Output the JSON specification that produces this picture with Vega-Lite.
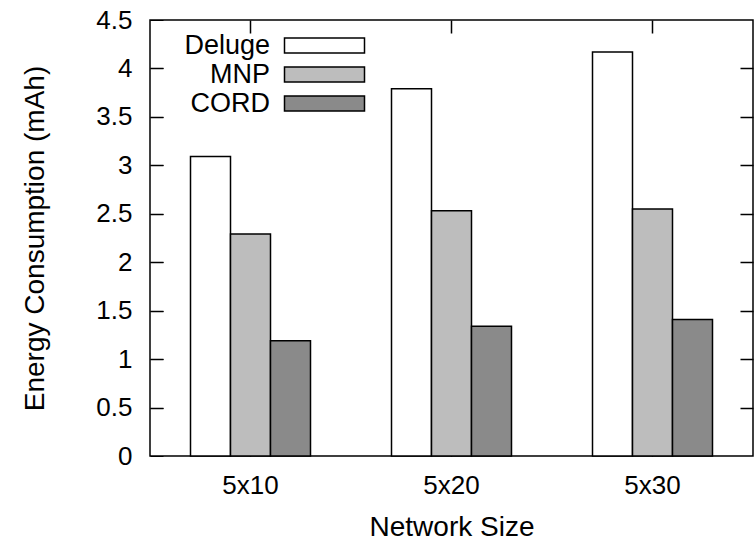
{
  "$schema": "https://vega.github.io/schema/vega-lite/v6.json",
  "width": 603,
  "height": 436,
  "autosize": "none",
  "padding": {"left": 150, "top": 20, "right": 3, "bottom": 85},
  "background": "white",
  "config": {
    "font": "Liberation Sans",
    "view": {"stroke": "black", "strokeWidth": 1.5},
    "axis": {"grid": false}
  },
  "data": {
    "values": [
      {"size": "5x10", "protocol": "Deluge", "energy": 3.09},
      {"size": "5x10", "protocol": "MNP", "energy": 2.29},
      {"size": "5x10", "protocol": "CORD", "energy": 1.19},
      {"size": "5x20", "protocol": "Deluge", "energy": 3.79},
      {"size": "5x20", "protocol": "MNP", "energy": 2.53},
      {"size": "5x20", "protocol": "CORD", "energy": 1.34},
      {"size": "5x30", "protocol": "Deluge", "energy": 4.17},
      {"size": "5x30", "protocol": "MNP", "energy": 2.55},
      {"size": "5x30", "protocol": "CORD", "energy": 1.41}
    ]
  },
  "layer": [
    {
      "mark": {"type": "bar", "stroke": "black", "strokeWidth": 1.5},
      "encoding": {
        "x": {
          "field": "size", "type": "nominal", "sort": ["5x10", "5x20", "5x30"],
          "scale": {"paddingInner": 0.403, "paddingOuter": 0.2015},
          "axis": {"orient": "bottom", "offset": -13, "tickSize": 13, "tickColor": "black", "domain": false, "title": "Network Size", "labelAngle": 0, "labelFontSize": 26, "labelColor": "black", "labelFont": "Liberation Sans", "labelPadding": 16, "titleFontSize": 28, "titleFont": "Liberation Sans", "titleFontWeight": "normal", "titleColor": "black", "titleX": 301.5, "titleY": 92, "titleBaseline": "alphabetic", "titleAlign": "center"}
        },
        "xOffset": {"field": "protocol", "type": "nominal", "sort": ["Deluge", "MNP", "CORD"], "scale": {"paddingInner": 0, "paddingOuter": 0}},
        "y": {
          "field": "energy", "type": "quantitative",
          "scale": {"domain": [0, 4.5], "nice": false},
          "axis": {"orient": "left", "offset": -13, "tickSize": 13, "tickColor": "black", "domain": false, "title": "Energy Consumption (mAh)", "values": [0, 0.5, 1, 1.5, 2, 2.5, 3, 3.5, 4, 4.5], "format": "~f", "labelFontSize": 26, "labelColor": "black", "labelFont": "Liberation Sans", "labelPadding": 18, "titleFontSize": 28, "titleFont": "Liberation Sans", "titleFontWeight": "normal", "titleColor": "black", "titleAngle": 270, "titleX": -120, "titleY": 218, "titleBaseline": "alphabetic", "titleAlign": "center"}
        },
        "fill": {
          "field": "protocol", "type": "nominal",
          "scale": {"domain": ["Deluge", "MNP", "CORD"], "range": ["#ffffff", "#bdbdbd", "#8a8a8a"]},
          "legend": {"orient": "none", "legendX": 161, "legendY": 12, "title": null, "symbolType": "M-4,-0.75L4,-0.75L4,0.75L-4,0.75Z", "symbolSize": 400, "symbolStrokeColor": "black", "symbolStrokeWidth": 1.5, "symbolOpacity": 1, "labelAlign": "right", "labelOffset": -68, "labelFontSize": 27, "labelFont": "Liberation Sans", "labelColor": "black", "rowPadding": 1}
        }
      }
    },
    {
      "mark": {"type": "bar", "opacity": 0},
      "encoding": {
        "x": {"field": "size", "type": "nominal", "sort": ["5x10", "5x20", "5x30"], "axis": {"orient": "top", "domain": false, "labels": false, "ticks": false, "title": null, "grid": true, "gridColor": "black", "gridOpacity": 1, "gridWidth": 1.5, "gridDash": [13, 410]}},
        "y": {"field": "energy", "type": "quantitative", "stack": null, "axis": {"orient": "right", "domain": false, "labels": false, "ticks": false, "title": null, "values": [0.5, 1, 1.5, 2, 2.5, 3, 3.5, 4], "grid": true, "gridColor": "black", "gridOpacity": 1, "gridWidth": 1.5, "gridDash": [13, 577]}}
      }
    }
  ],
  "resolve": {"axis": {"x": "independent", "y": "independent"}}
}
